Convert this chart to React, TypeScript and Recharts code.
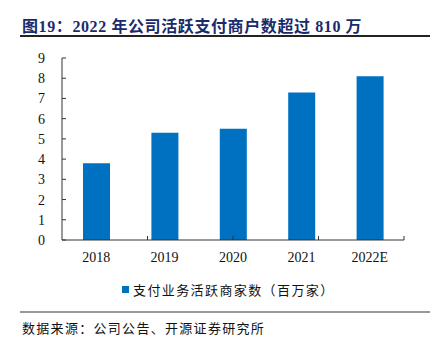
import React from 'react';
import { BarChart, Bar, XAxis, YAxis, Legend, ReferenceLine } from 'recharts';

const years = ['2018', '2019', '2020', '2021', '2022E'];
const activeMerchants = [3.8, 5.3, 5.5, 7.3, 8.1];
const yTicks = [0, 1, 2, 3, 4, 5, 6, 7, 8, 9];
const bandEdges = [1, 2, 3, 4, 5];

const seriesName = '支付业务活跃商家数（百万家）';
const BLUE = '#0070C0';
const SERIF = "'Liberation Serif', 'Times New Roman', serif";
const CJK = "'Liberation Serif', 'Noto Sans CJK SC', serif";

const data = years.map((year, i) => ({ year, value: activeMerchants[i] }));

const LegendContent = () => (
  <div style={{ display: 'flex', alignItems: 'center', height: 20, paddingLeft: 122 }}>
    <span style={{ width: 7, height: 7, background: BLUE, marginRight: 4 }} />
    <span style={{ fontFamily: CJK, fontSize: 13, letterSpacing: 1.4, color: '#111' }}>{seriesName}</span>
  </div>
);

const App: React.FC = () => {
  return (
    <div style={{ position: 'absolute', left: 0, top: 0, width: 441, height: 350, background: '#fff' }}>
      {/* Title */}
      <div
        style={{
          position: 'absolute',
          left: 22,
          top: 13,
          fontFamily: CJK,
          fontWeight: 'bold',
          fontSize: 16,
          letterSpacing: 0.6,
          color: '#1a2b6d',
          whiteSpace: 'nowrap',
        }}
      >
        图19：2022 年公司活跃支付商户数超过 810 万
      </div>
      <div style={{ position: 'absolute', left: 20, top: 35, width: 410, height: 1.5, background: '#222' }} />

      <div style={{ position: 'absolute', left: 0, top: 0 }}>
        <BarChart
          width={441}
          height={350}
          data={data}
          margin={{ top: 58, right: 37, left: 22, bottom: 51 }}
        >
          <XAxis
            dataKey="year"
            axisLine={{ stroke: '#333' }}
            tickLine={false}
            tickSize={6}
            tickMargin={6}
            height={39}
            tick={{ fill: '#111', fontSize: 14, fontFamily: SERIF }}
          />
          <XAxis xAxisId="edges" type="number" domain={[0, 5]} hide />
          <YAxis
            domain={[0, 9]}
            ticks={yTicks}
            width={40}
            interval={0}
            axisLine={{ stroke: '#333' }}
            tickLine={{ stroke: '#333' }}
            tickSize={-4}
            tickMargin={21}
            tick={{ fill: '#111', fontSize: 14, fontFamily: SERIF }}
          />
          {bandEdges.map((e) => (
            <ReferenceLine
              key={e}
              xAxisId="edges"
              segment={[{ x: e, y: 0 }, { x: e, y: 0.2 }]}
              stroke="#333"
            />
          ))}
          <Legend verticalAlign="bottom" content={<LegendContent />} wrapperStyle={{ left: 0, width: 441 }} />
          <Bar dataKey="value" name={seriesName} fill={BLUE} barSize={27} isAnimationActive={false} />
        </BarChart>
      </div>

      {/* Source */}
      <div style={{ position: 'absolute', left: 20, top: 311, width: 410, height: 1.5, background: '#999' }} />
      <div
        style={{
          position: 'absolute',
          left: 22,
          top: 318,
          fontFamily: CJK,
          fontSize: 13,
          letterSpacing: 1.3,
          color: '#111',
          whiteSpace: 'nowrap',
        }}
      >
        数据来源：公司公告、开源证券研究所
      </div>
    </div>
  );
};

export default App;
